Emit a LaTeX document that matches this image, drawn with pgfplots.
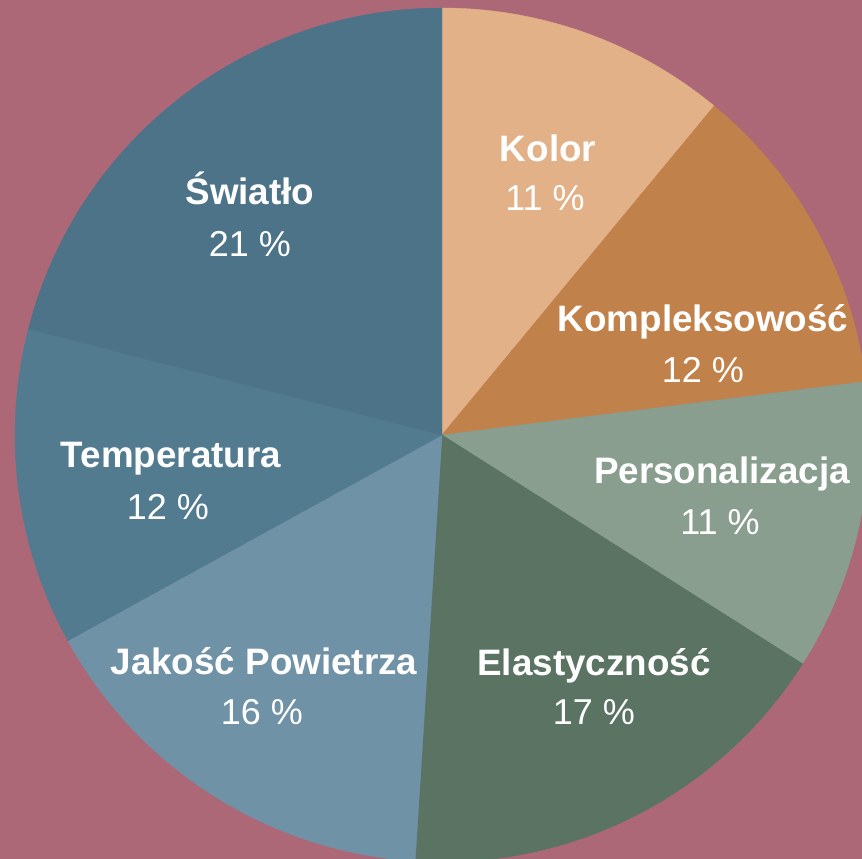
\documentclass[border=0pt]{standalone}
\usepackage{pgfplots}
\pgfplotsset{compat=1.18}
\usepackage{fontspec}
\setmainfont{Liberation Sans}
\definecolor{bg}{HTML}{AD6878}
\definecolor{cKolor}{HTML}{E2B188}
\definecolor{cKompl}{HTML}{C1814A}
\definecolor{cPers}{HTML}{899E8F}
\definecolor{cElast}{HTML}{5A7363}
\definecolor{cJak}{HTML}{6F92A6}
\definecolor{cTemp}{HTML}{537B90}
\definecolor{cSwiat}{HTML}{4C7387}
\begin{document}
\begin{tikzpicture}
\begin{axis}[
  scale only axis, width=862pt, height=859pt,
  xmin=-442, xmax=420, ymin=-424, ymax=435,
  hide axis, clip=true,
  trig format plots=deg,
]
\fill[bg] (rel axis cs:0,0) rectangle (rel axis cs:1,1);
% shares (%): Kolor 11, Kompleksowosc 12, Personalizacja 11, Elastycznosc 17,
% Jakosc Powietrza 16, Temperatura 12, Swiatlo 21 -- clockwise from 90 deg
\addplot[fill=cKolor, draw=cKolor, line width=0.4pt, domain=50.4:90, samples=60] ({427*cos(x)},{427*sin(x)}) -- (axis cs:0,0) -- cycle;
\addplot[fill=cKompl, draw=cKompl, line width=0.4pt, domain=7.2:50.4, samples=60] ({427*cos(x)},{427*sin(x)}) -- (axis cs:0,0) -- cycle;
\addplot[fill=cPers, draw=cPers, line width=0.4pt, domain=-32.4:7.2, samples=60] ({427*cos(x)},{427*sin(x)}) -- (axis cs:0,0) -- cycle;
\addplot[fill=cElast, draw=cElast, line width=0.4pt, domain=-93.6:-32.4, samples=80] ({427*cos(x)},{427*sin(x)}) -- (axis cs:0,0) -- cycle;
\addplot[fill=cJak, draw=cJak, line width=0.4pt, domain=-151.2:-93.6, samples=80] ({427*cos(x)},{427*sin(x)}) -- (axis cs:0,0) -- cycle;
\addplot[fill=cTemp, draw=cTemp, line width=0.4pt, domain=-194.4:-151.2, samples=60] ({427*cos(x)},{427*sin(x)}) -- (axis cs:0,0) -- cycle;
\addplot[fill=cSwiat, draw=cSwiat, line width=0.4pt, domain=-270:-194.4, samples=90] ({427*cos(x)},{427*sin(x)}) -- (axis cs:0,0) -- cycle;

\tikzset{nm/.style={anchor=base, text=white, font=\fontsize{36.8}{40}\selectfont\bfseries},
         pc/.style={anchor=base, text=white, font=\fontsize{36}{40}\selectfont}}
\node[nm] at (axis cs:106,273) {Kolor};
\node[pc] at (axis cs:103,224) {11 \%};
\node[nm] at (axis cs:261,103) {Kompleksowość};
\node[pc] at (axis cs:261,52) {12 \%};
\node[nm] at (axis cs:280,-49) {Personalizacja};
\node[pc] at (axis cs:278,-100) {11 \%};
\node[nm] at (axis cs:152,-241) {Elastyczność};
\node[pc] at (axis cs:152,-290) {17 \%};
\node[nm] at (axis cs:-178,-240) {Jakość Powietrza};
\node[pc] at (axis cs:-180,-290) {16 \%};
\node[nm] at (axis cs:-271,-33) {Temperatura};
\node[pc] at (axis cs:-274,-85) {12 \%};
\node[nm] at (axis cs:-192,230) {Światło};
\node[pc] at (axis cs:-192,178) {21 \%};
\end{axis}
\end{tikzpicture}
\end{document}
